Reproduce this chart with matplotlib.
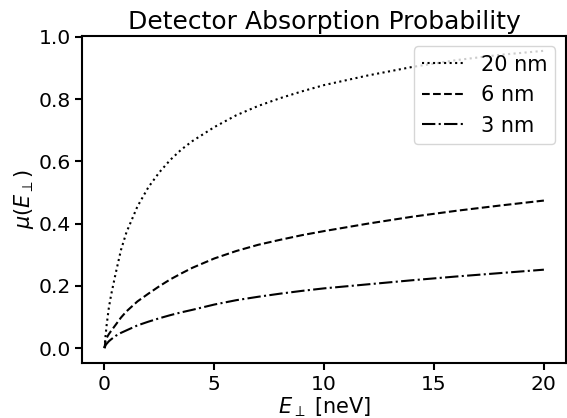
import matplotlib
matplotlib.use("Agg")
import matplotlib.pyplot as plt

energy = [0, 0.05, 0.1, 0.2, 0.3, 0.5, 0.75, 1.0, 1.5, 2, 2.5, 3, 3.5, 4, 5, 6, 7, 8, 9, 10,
          12, 14, 16, 18, 20]
mu_20nm = [0, 0.04, 0.075, 0.13, 0.17, 0.237, 0.315, 0.372, 0.455, 0.517, 0.565, 0.605, 0.638,
           0.665, 0.71, 0.748, 0.778, 0.803, 0.825, 0.845, 0.876, 0.903, 0.925, 0.942, 0.955]
mu_6nm = [0, 0.024, 0.033, 0.045, 0.055, 0.074, 0.098, 0.118, 0.15, 0.175, 0.199, 0.221, 0.24,
          0.258, 0.288, 0.312, 0.332, 0.348, 0.363, 0.376, 0.40, 0.422, 0.441, 0.458, 0.474]
mu_3nm = [0, 0.009, 0.014, 0.022, 0.028, 0.039, 0.049, 0.057, 0.073, 0.085, 0.096, 0.106, 0.115,
          0.123, 0.14, 0.154, 0.165, 0.175, 0.184, 0.192, 0.205, 0.218, 0.23, 0.241, 0.252]
labels = ["20 nm", "6 nm", "3 nm"]

plt.rcParams['font.family'] = ['DejaVu Sans']
fig = plt.figure(figsize=(5.67, 4.18), dpi=100)
ax = fig.add_axes([0.1455, 0.1316, 0.8525, 0.7824])

ax.plot(energy, mu_20nm, ':', color='black', lw=1.5, label=labels[0])
ax.plot(energy, mu_6nm, '--', color='black', lw=1.5, label=labels[1])
ax.plot(energy, mu_3nm, '-.', color='black', lw=1.5, label=labels[2])

ax.set_title("Detector Absorption Probability", fontsize=18, pad=5)
ax.set_xlabel(r"$E_\perp$ [neV]", fontsize=15, labelpad=1)
ax.set_ylabel(r"$\mu(E_\perp)$", fontsize=15, labelpad=2)
ax.tick_params(labelsize=14.6, width=1.5, length=5)
for s in ax.spines.values():
    s.set_linewidth(1.5)
ax.set_xticks([0, 5, 10, 15, 20])
ax.set_yticks([0.0, 0.2, 0.4, 0.6, 0.8, 1.0])
ax.legend(loc='upper right', fontsize=15)

fig.savefig("out.png", dpi=100)
